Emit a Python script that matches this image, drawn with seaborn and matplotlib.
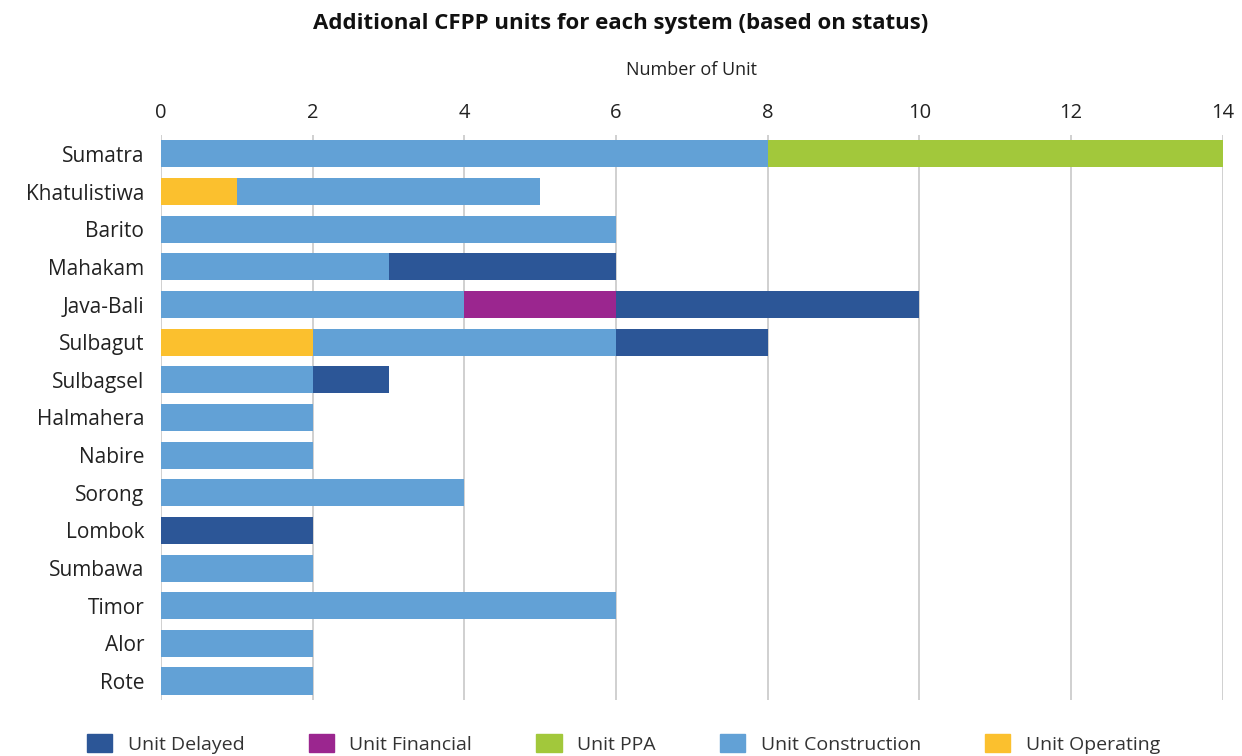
import matplotlib
matplotlib.use("Agg")
import matplotlib.pyplot as plt
import matplotlib.patches as mpatches
import numpy as np
import pandas as pd
import seaborn as sns

# Power systems (top to bottom)
systems = ["Sumatra", "Khatulistiwa", "Barito", "Mahakam", "Java-Bali", "Sulbagut",
           "Sulbagsel", "Halmahera", "Nabire", "Sorong", "Lombok", "Sumbawa",
           "Timor", "Alor", "Rote"]

# Number of CFPP units by status
unit_operating    = [0, 1, 0, 0, 0, 2, 0, 0, 0, 0, 0, 0, 0, 0, 0]
unit_construction = [8, 4, 6, 3, 4, 4, 2, 2, 2, 4, 0, 2, 6, 2, 2]
unit_financial    = [0, 0, 0, 0, 2, 0, 0, 0, 0, 0, 0, 0, 0, 0, 0]
unit_delayed      = [0, 0, 0, 3, 4, 2, 1, 0, 0, 0, 2, 0, 0, 0, 0]
unit_ppa          = [6, 0, 0, 0, 0, 0, 0, 0, 0, 0, 0, 0, 0, 0, 0]

x_ticks = [0, 2, 4, 6, 8, 10, 12, 14]

colors = {
    "Unit Delayed": "#2C5697",
    "Unit Financial": "#9B268F",
    "Unit PPA": "#A2C83B",
    "Unit Construction": "#62A1D6",
    "Unit Operating": "#FBC02E",
}

sns.set_theme(style="white")
plt.rcParams["font.family"] = ["Open Sans", "DejaVu Sans"]

df = pd.DataFrame({
    "system": systems,
    "Unit Operating": unit_operating,
    "Unit Construction": unit_construction,
    "Unit Financial": unit_financial,
    "Unit Delayed": unit_delayed,
    "Unit PPA": unit_ppa,
})

stack_order = ["Unit Operating", "Unit Construction", "Unit Financial",
               "Unit Delayed", "Unit PPA"]
cum = df[stack_order].cumsum(axis=1)

fig = plt.figure(figsize=(12.42, 7.56), dpi=100)
ax = fig.add_axes([0.1296, 0.0743, 0.855, 0.747])

# Draw cumulative totals from the outermost segment inward
for status in reversed(stack_order):
    sns.barplot(x=cum[status], y=df["system"], orient="h", ax=ax,
                color=colors[status], width=0.72, saturation=1,
                linewidth=0, zorder=3)

ax.set_xlim(0, 14)
ax.set_xticks(x_ticks)
ax.xaxis.tick_top()
ax.xaxis.set_label_position("top")
ax.set_xlabel("Number of Unit", fontsize=13, labelpad=20, color="#222222")
ax.set_ylabel("")
ax.tick_params(axis="x", length=0, labelsize=14.5, pad=9, colors="#222222")
ax.tick_params(axis="y", length=0, labelsize=15, pad=12, colors="#222222")
ax.grid(axis="x", color="#C4C4C4", linewidth=1.1, zorder=0)
ax.grid(axis="y", visible=False)
for s in ax.spines.values():
    s.set_visible(False)
ax.set_ylim(14.5, -0.5)

fig.suptitle("Additional CFPP units for each system (based on status)",
             fontsize=16, fontweight="bold", x=0.5, y=0.983, color="#111111")

legend_order = ["Unit Delayed", "Unit Financial", "Unit PPA",
                "Unit Construction", "Unit Operating"]
handles = [mpatches.Patch(color=colors[k], label=k) for k in legend_order]
fig.legend(handles=handles, loc="center", bbox_to_anchor=(0.502, 0.016), ncol=5,
           frameon=False, fontsize=14, handlelength=1.3, handleheight=1.0,
           columnspacing=3.3, handletextpad=0.8, labelcolor="#333333")

fig.savefig("out.png", dpi=100)
